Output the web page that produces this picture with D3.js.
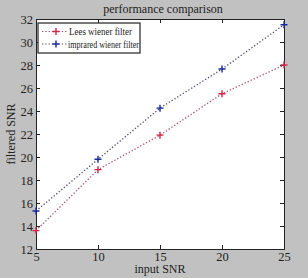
<!DOCTYPE html>
<html>
<head>
<meta charset="utf-8">
<script src="https://cdn.jsdelivr.net/npm/d3@7"></script>
<style>
  body { margin: 0; background: #c1c1c1; }
  text { font-family: "Liberation Serif", "Times New Roman", serif; fill: #222; }
</style>
</head>
<body>
<div id="chart"></div>
<script>
        // data
        const snrIn = [5, 10, 15, 20, 25];
        const leesValues = [13.6, 18.9, 21.9, 25.5, 28.0];
        const improvedValues = [15.3, 19.8, 24.25, 27.65, 31.5];
        const xTicks = [5, 10, 15, 20, 25];
        const yTicks = [12, 14, 16, 18, 20, 22, 24, 26, 28, 30, 32];
        const seriesNames = ["Lees wiener filter", "imprared wiener filter"];

        const series = [
            {name: seriesNames[0], values: leesValues, line: "#a8506e", mark: "#d02848", tl: 63},
            {name: seriesNames[1], values: improvedValues, line: "#4c4c6a", mark: "#1a2a9a", tl: 71}
        ];

        const W = 308, H = 278;
        const margin = {top: 19, right: 24, bottom: 29, left: 36};
        const width = W - margin.left - margin.right;
        const height = H - margin.top - margin.bottom;

        const svg = d3.select("#chart").append("svg")
            .attr("width", W).attr("height", H);

        const g = svg.append("g")
            .attr("transform", `translate(${margin.left},${margin.top})`);

        const x = d3.scaleLinear().domain([5, 25]).range([0, width]);
        const y = d3.scaleLinear().domain([12, 32]).range([height, 0]);

        g.append("rect").attr("width", width).attr("height", height).attr("fill", "#fff");

        // axes, ticks pointing inward on all sides
        const axB = g.append("g").attr("transform", `translate(0,${height})`)
            .call(d3.axisBottom(x).tickValues(xTicks).tickSize(-4).tickPadding(4));
        const axT = g.append("g")
            .call(d3.axisTop(x).tickValues(xTicks).tickSize(-4).tickFormat(""));
        const axL = g.append("g")
            .call(d3.axisLeft(y).tickValues(yTicks).tickSize(-4).tickPadding(3));
        const axR = g.append("g").attr("transform", `translate(${width},0)`)
            .call(d3.axisRight(y).tickValues(yTicks).tickSize(-4).tickFormat(""));
        [axB, axT, axL, axR].forEach(a => {
            a.selectAll("path").attr("stroke", "#222");
            a.selectAll("line").attr("stroke", "#222");
            a.selectAll("text").style("font-family", "Liberation Serif, serif")
                .style("font-size", "12.5px").attr("fill", "#222");
        });
        axB.selectAll("text").attr("dy", "0.6em");

        // lines
        const line = d3.line().x((d, i) => x(snrIn[i])).y(d => y(d));
        series.forEach(s => {
            g.append("path").datum(s.values)
                .attr("d", line).attr("fill", "none")
                .attr("stroke", s.line).attr("stroke-width", 1.3)
                .attr("stroke-dasharray", "1.3,2");
            g.selectAll(null).data(s.values).enter().append("path")
                .attr("transform", (d, i) => `translate(${x(snrIn[i])},${y(d)})`)
                .attr("d", "M-3.5,0H3.5M0,-3.5V3.5")
                .attr("stroke", s.mark).attr("stroke-width", 1.4);
        });

        // legend
        const lg = g.append("g").attr("transform", "translate(2,4)");
        lg.append("rect").attr("width", 102).attr("height", 30)
            .attr("fill", "#fff").attr("stroke", "#222").attr("stroke-width", 1.2);
        series.forEach((s, i) => {
            const yy = 8.5 + i * 12.5;
            lg.append("line").attr("x1", 4).attr("x2", 29).attr("y1", yy).attr("y2", yy)
                .attr("stroke", s.line).attr("stroke-width", 1.2).attr("stroke-dasharray", "1.3,2");
            lg.append("path").attr("transform", `translate(18,${yy})`)
                .attr("d", "M-3.5,0H3.5M0,-3.5V3.5").attr("stroke", s.mark).attr("stroke-width", 1.4);
            lg.append("text").attr("x", i === 0 ? 31 : 30).attr("y", yy).attr("dy", "0.35em")
                .attr("textLength", s.tl).attr("lengthAdjust", "spacingAndGlyphs")
                .style("font-size", "10.5px").text(s.name);
        });

        // titles
        svg.append("text").attr("x", margin.left + width / 2 + 3).attr("y", 13)
            .attr("text-anchor", "middle").style("font-size", "12px").text("performance comparison");
        svg.append("text").attr("x", margin.left + width / 2).attr("y", 273)
            .attr("text-anchor", "middle").style("font-size", "12px").text("input SNR");
        svg.append("text")
            .attr("transform", `translate(15,${margin.top + height / 2}) rotate(-90)`)
            .attr("text-anchor", "middle").style("font-size", "12px").text("filtered SNR");
</script>
</body>
</html>
